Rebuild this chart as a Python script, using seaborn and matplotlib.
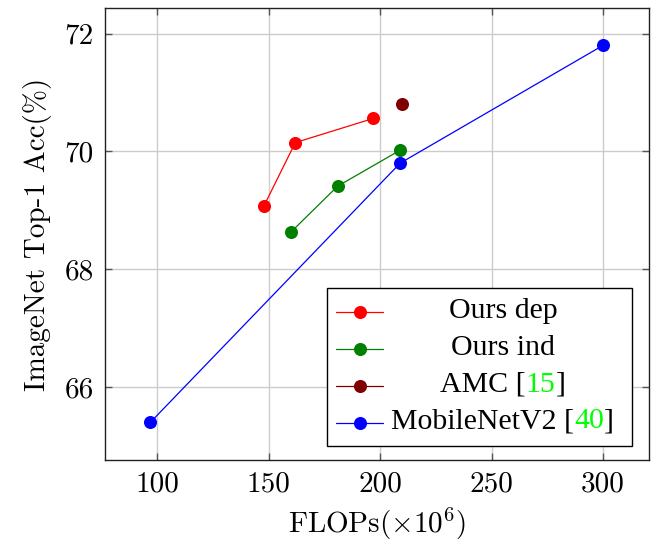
import matplotlib
matplotlib.use("Agg")
import matplotlib.pyplot as plt
import seaborn as sns
import pandas as pd
from matplotlib.lines import Line2D
from matplotlib.patches import Rectangle
from matplotlib.offsetbox import TextArea, HPacker, AnnotationBbox

# ---- data ----
dep_flops = [148, 162, 197]
dep_acc = [69.08, 70.15, 70.56]
ind_flops = [160, 181, 209]
ind_acc = [68.63, 69.41, 70.02]
amc_flops = [210]
amc_acc = [70.8]
mnv2_flops = [97, 209, 300]
mnv2_acc = [65.4, 69.8, 71.8]

series_names = ["Ours dep", "Ours ind", "AMC", "MobileNetV2"]
series_colors = ["#ff0000", "#008000", "#7f0000", "#0000ff"]
legend_parts = [[("Ours dep", "black")],
                [("Ours ind", "black")],
                [("AMC [", "black"), ("15", "#00ff00"), ("]", "black")],
                [("MobileNetV2 [", "black"), ("40", "#00ff00"), ("]", "black")]]
xticks = [100, 150, 200, 250, 300]
yticks = [66, 68, 70, 72]

sns.set_theme(style="whitegrid")
plt.rcParams["font.family"] = ["cmr10"]
plt.rcParams["mathtext.fontset"] = "cm"
plt.rcParams["axes.formatter.use_mathtext"] = True
plt.rcParams["text.color"] = "black"
plt.rcParams["axes.labelcolor"] = "black"
plt.rcParams["xtick.labelcolor"] = "black"
plt.rcParams["ytick.labelcolor"] = "black"

fig = plt.figure(figsize=(6.57, 5.45), dpi=100)
ax = fig.add_axes([104.7 / 657, 1 - 460 / 545, 544 / 657, 451.7 / 545])

xs = [dep_flops, ind_flops, amc_flops, mnv2_flops]
ys = [dep_acc, ind_acc, amc_acc, mnv2_acc]
frames = []
for name, x, y in zip(series_names, xs, ys):
    frames.append(pd.DataFrame({"flops": x, "acc": y, "series": name}))
df = pd.concat(frames, ignore_index=True)

ms = 9.4
lw = 0.9
for name, col in zip(series_names, series_colors):
    sub = df[df["series"] == name]
    sns.lineplot(data=sub, x="flops", y="acc", ax=ax, color=col, marker="o",
                 markersize=ms, markeredgewidth=0, linewidth=lw, sort=False,
                 legend=False, zorder=3)

ax.set_xlim(76.5, 320.5)
ax.set_ylim(64.76, 72.43)
ax.set_xticks(xticks)
ax.set_yticks(yticks)
ax.set_xticklabels([str(v) for v in xticks])
ax.set_yticklabels([str(v) for v in yticks])
ax.grid(True, color="#cccccc", linewidth=1.0)
ax.set_facecolor("white")
for s in ax.spines.values():
    s.set_edgecolor("#222222")
    s.set_linewidth(1.0)
ax.tick_params(axis="both", which="major", direction="in", length=5, width=1,
               color="#555555", labelsize=21, pad=8, labelcolor="black",
               top=True, right=True, bottom=True, left=True)
ax.set_xlabel(r"FLOPs$(\times10^{6})$", fontsize=21, labelpad=6, color="black")
ax.set_ylabel("ImageNet Top-1 Acc(%)", fontsize=21, labelpad=9, color="black")

# ---- legend (manual, for coloured citation numbers) ----
ax.add_patch(Rectangle((0.409, 0.0317), 0.969 - 0.409, 0.380 - 0.0317,
                       transform=ax.transAxes, facecolor="white",
                       edgecolor="black", linewidth=1.0, zorder=5))
rows_y = [0.327, 0.246, 0.164, 0.083]
for ry, col, parts in zip(rows_y, series_colors, legend_parts):
    ax.add_line(Line2D([0.425, 0.512], [ry, ry], transform=ax.transAxes,
                       color=col, linewidth=lw, zorder=6))
    ax.add_line(Line2D([0.4685], [ry], transform=ax.transAxes, color=col,
                       marker="o", markersize=ms, markeredgewidth=0,
                       linestyle="none", zorder=7))
    areas = [TextArea(t, textprops=dict(color=c, fontsize=21.5,
                                        family="Liberation Serif"))
             for t, c in parts]
    pack = HPacker(children=areas, pad=0, sep=0, align="baseline")
    ab = AnnotationBbox(pack, (0.732, ry), xycoords="axes fraction",
                        box_alignment=(0.5, 0.45), frameon=False, pad=0,
                        zorder=8)
    ax.add_artist(ab)

fig.savefig("out.png", dpi=100)
